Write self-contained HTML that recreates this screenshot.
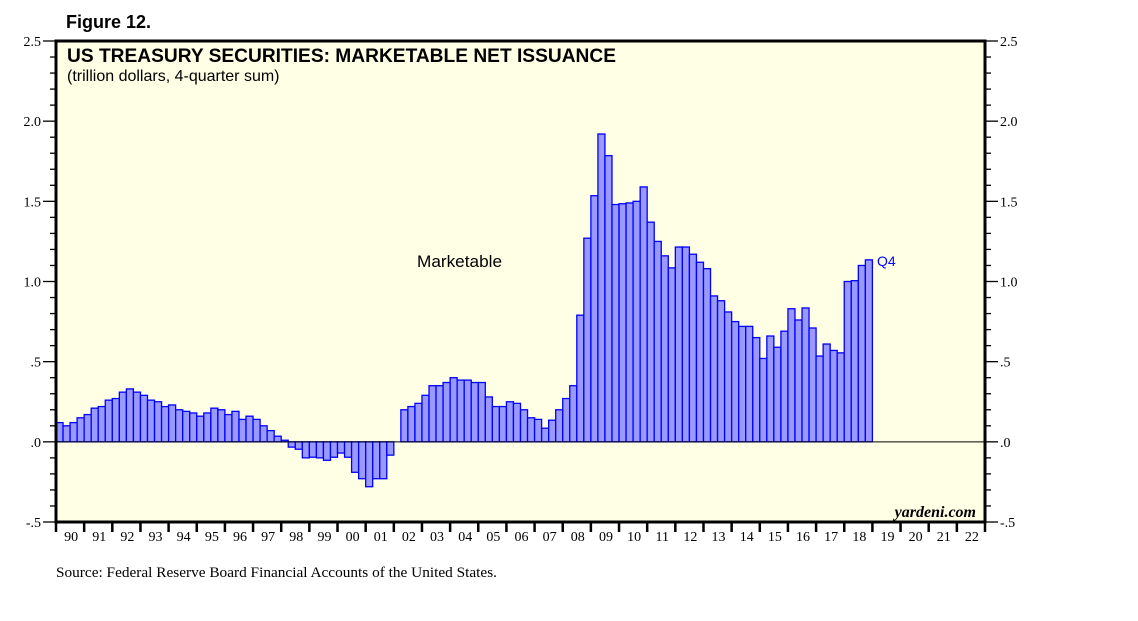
<!DOCTYPE html>
<html><head><meta charset="utf-8"><style>
body{margin:0;background:#fff;width:1138px;height:621px;overflow:hidden}
svg{display:block}
</style></head><body>
<svg id="chart" width="1138" height="621" xmlns="http://www.w3.org/2000/svg">
<text x="66" y="28" font-family="Liberation Sans, sans-serif" font-weight="bold" font-size="18">Figure 12.</text>
<rect x="56" y="41" width="929" height="481" fill="#ffffe6"/>
<g id="bars"></g>
<g id="axes"></g>
<rect x="56" y="41" width="929" height="481" fill="none" stroke="#000" stroke-width="3"/>
<text x="67" y="62" font-family="Liberation Sans, sans-serif" font-weight="bold" font-size="19" textLength="549" lengthAdjust="spacingAndGlyphs">US TREASURY SECURITIES: MARKETABLE NET ISSUANCE</text>
<text x="67" y="81" font-family="Liberation Sans, sans-serif" font-size="16">(trillion dollars, 4-quarter sum)</text>
<text x="417" y="267" font-family="Liberation Sans, sans-serif" font-size="16.5" textLength="85" lengthAdjust="spacingAndGlyphs">Marketable</text>
<text x="877" y="266" font-family="Liberation Sans, sans-serif" font-size="14" fill="#0000ff">Q4</text>
<text x="976" y="517" text-anchor="end" font-family="Liberation Serif, serif" font-style="italic" font-weight="bold" font-size="16">yardeni.com</text>
<text x="56" y="577" font-family="Liberation Serif, serif" font-size="14.5" textLength="441" lengthAdjust="spacingAndGlyphs">Source: Federal Reserve Board Financial Accounts of the United States.</text>
</svg>
<script>
const values = [0.12,0.10,0.12,0.15,0.17,0.21,0.22,0.26,0.27,0.31,0.33,0.31,0.29,0.26,0.25,0.22,0.23,0.20,0.19,0.18,0.16,0.18,0.21,0.20,0.17,0.19,0.14,0.16,0.14,0.10,0.07,0.035,0.01,
-0.033,-0.046,-0.10,-0.096,-0.10,-0.115,-0.096,-0.07,-0.096,-0.19,-0.23,-0.28,-0.23,-0.23,-0.083,
0,
0.20,0.22,0.24,0.29,0.35,0.35,0.37,0.40,0.385,0.385,0.37,0.37,0.28,0.22,0.22,0.25,0.24,0.20,0.15,0.14,0.085,0.135,0.20,0.27,0.35,
0.79,1.27,1.535,1.92,1.785,1.48,1.485,1.49,1.50,1.59,1.37,1.25,1.16,1.085,1.215,1.215,1.17,1.12,1.08,0.91,0.88,0.81,0.75,0.72,0.72,0.65,0.52,0.66,0.59,0.69,0.83,0.76,0.835,0.71,0.535,0.61,0.57,0.555,1.0,1.005,1.10,1.135];
const yearLabels = ["90","91","92","93","94","95","96","97","98","99","00","01","02","03","04","05","06","07","08","09","10","11","12","13","14","15","16","17","18","19","20","21","22"];
const yTicks = [2.5,2.0,1.5,1.0,0.5,0.0,-0.5];
const yTickLabels = ["2.5","2.0","1.5","1.0",".5",".0","-.5"];
const X0=56,X1=985,Y0=41,Y1=522,VMIN=-0.5,VMAX=2.5;
const NS="http://www.w3.org/2000/svg";
const yw=(X1-X0)/yearLabels.length, qw=yw/4;
function y(v){return Y1-(v-VMIN)/(VMAX-VMIN)*(Y1-Y0);}
function x(i){return X0+i*qw;}
function mk(tag,a,p){const e=document.createElementNS(NS,tag);for(const k in a)e.setAttribute(k,a[k]);p.appendChild(e);return e;}
const bars=document.getElementById('bars'),axes=document.getElementById('axes');
values.forEach((v,i)=>{
  if(v===0)return;
  const r=mk('rect',{x:x(i),y:Math.min(y(v),y(0)),width:qw,height:Math.abs(y(v)-y(0)),fill:'#9999ff',stroke:'#0000ff','stroke-width':1.3},bars);
  
  
});
const z=mk('line',{x1:X0,x2:X1,y1:y(0),y2:y(0),stroke:'#000','stroke-width':1},axes);


for(let k=0;k<=30;k++){
  const v=VMIN+k*0.1, major=k%5===0, yy=y(v);
  mk('line',{x1:major?43:50,x2:X0,y1:yy,y2:yy,stroke:'#000','stroke-width':1.3},axes);
  mk('line',{x1:X1,x2:major?998:991,y1:yy,y2:yy,stroke:'#000','stroke-width':1.3},axes);
}
yTicks.forEach((v,i)=>{
  const t=mk('text',{x:41,y:y(v)+5,'text-anchor':'end','font-family':'Liberation Serif, serif','font-size':14},axes);
  t.textContent=yTickLabels[i];
  
  
  const t2=mk('text',{x:1000,y:y(v)+5,'font-family':'Liberation Serif, serif','font-size':14},axes);
  t2.textContent=yTickLabels[i];
  
  
});
yearLabels.forEach((l,i)=>{
  mk('line',{x1:X0+i*yw,x2:X0+i*yw,y1:Y1,y2:Y1+10,stroke:'#000','stroke-width':2.5},axes);
  const t=mk('text',{x:X0+i*yw+yw/2+1,y:Y1+19,'text-anchor':'middle','font-family':'Liberation Serif, serif','font-size':14},axes);
  t.textContent=l;
  
  
});
mk('line',{x1:X1,x2:X1,y1:Y1,y2:Y1+10,stroke:'#000','stroke-width':2.5},axes);
</script>
</body></html>
